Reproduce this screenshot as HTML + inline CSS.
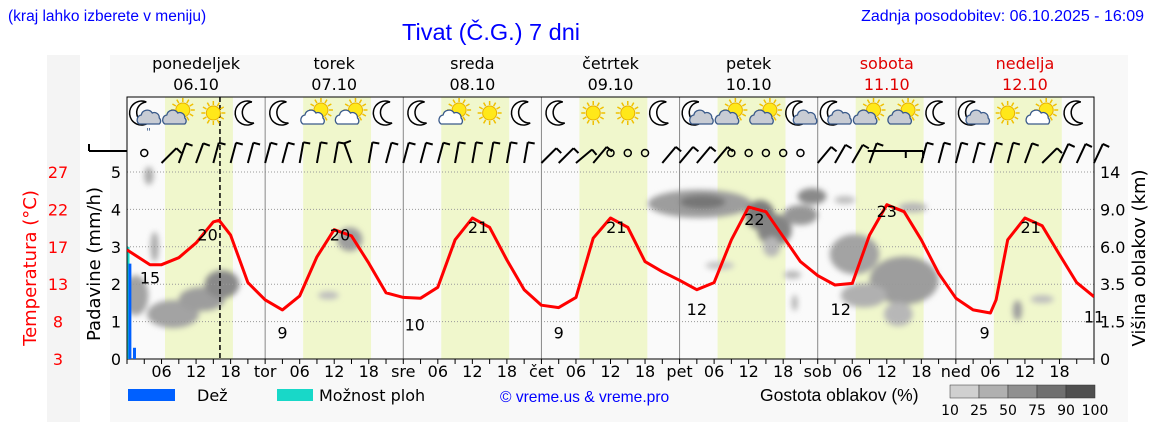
<!DOCTYPE html>
<html><head><meta charset="utf-8"><style>
html,body{margin:0;padding:0;background:#fff;}
body{width:1152px;height:443px;overflow:hidden;position:relative;font-family:"DejaVu Sans","Liberation Sans",sans-serif;}
svg text{font-family:"DejaVu Sans","Liberation Sans",sans-serif;}
</style></head><body>
<svg id="chart" width="1152" height="443" xmlns="http://www.w3.org/2000/svg">
<defs>
<filter id="blur" x="-50%" y="-50%" width="200%" height="200%"><feGaussianBlur stdDeviation="3"/></filter>
<clipPath id="plotclip"><rect x="127" y="97" width="967" height="262"/></clipPath>
</defs>
<rect x="47" y="55" width="33" height="367" fill="#f4f4f4"/>
<rect x="110" y="55" width="1018" height="367" fill="#f8f8f8"/>
<text x="8" y="21" font-size="15.5" fill="#0000ff" style="font-family:'Liberation Sans',sans-serif">(kraj lahko izberete v meniju)</text>
<text x="491" y="40" font-size="23.5" fill="#0000ff" text-anchor="middle" style="font-family:'Liberation Sans',sans-serif">Tivat (Č.G.) 7 dni</text>
<text x="1144" y="21" font-size="16" fill="#0000ff" text-anchor="end" style="font-family:'Liberation Sans',sans-serif">Zadnja posodobitev: 06.10.2025 - 16:09</text>
<g id="plot"></g>
</svg>
<script>
const dayNames=["ponedeljek","torek","sreda","četrtek","petek","sobota","nedelja"];
const dayDates=["06.10","07.10","08.10","09.10","10.10","11.10","12.10"];
const dayAbbr=["","tor","sre","čet","pet","sob","ned"];
const tempHours=[0,4,6,9,12,15,16,18,21,24,27,30,33,36,39,42,45,48,51,54,57,60,63,66,69,72,75,78,81,84,87,90,93,96,99,102,105,108,111,114,117,120,123,126,129,132,135,138,141,144,147,150,151,153,156,159,162,165,168];
const tempValues=[17.0,15.1,15.1,16.0,17.9,20.6,20.8,18.9,12.8,10.6,9.3,11.1,16.1,19.6,18.8,15.3,11.5,10.9,10.8,12.2,18.3,21.1,19.9,15.7,11.9,9.9,9.6,10.9,18.5,21.1,19.9,15.5,14.2,13.1,11.9,12.8,18.3,22.5,21.9,18.7,15.5,13.7,12.5,12.7,18.9,22.8,21.9,18.3,14.0,10.8,9.3,8.9,10.6,18.3,21.1,20.1,16.4,12.8,11.0];
const tempLabelValues=[15,20,9,20,10,21,9,21,12,22,12,23,9,21,11];
const tempLabelHours=[4,14,27,37,50,61,75,85,99,109,124,132,149,157,168];
const tempLabelOffsets=[18,14,22,14,22,14,22,14,22,14,22,14,22,14,22];
const precipTicks=[0,1,2,3,4,5];
const tempTicks=["3","8","13","17","22","27"];
const cloudHeightTicks=["0","1.5","3.5","6.0","9.0","14"];
const iconTypes=[["moonrain","suncloudg","sun","moon"],["moon","suncloudw","suncloudw","moon"],["moon","suncloudw","sun","moon"],["moon","sun","sun","moon"],["mooncloud","suncloudg","suncloudg","mooncloud"],["mooncloud","suncloudg","suncloudg","moon"],["mooncloud","sun","suncloudw","moon"]];
// 999 = calm (circle)
const windAngles=[-90,999,45,20,20,15,15,15,15,15,10,10,10,-20,10,15,15,15,15,10,10,10,10,10,45,45,50,40,999,999,999,40,40,40,40,999,999,999,999,999,40,30,30,20,90,90,15,15,15,15,15,15,20,45,25,25,25];
const rainHours=[0.5,1.3];
const rainValues=[2.55,0.3];
const showerValue=[3.0];
const cloudHour=[3.8,4.8,1.5,8,13,16.5,38.7,35,99.5,100,110,112.5,117,119,124.7,136.5,115.6,112,103,126.4,135,134,116,154.7,159,128];
const cloudLevel=[4.9,3.0,1.7,1.2,1.6,2.0,3.2,1.7,4.15,4.2,3.85,3.45,3.85,4.35,4.25,4.05,2.25,3.0,2.5,2.8,2.1,1.2,1.5,1.3,1.6,1.7];
const cloudHalfWidth=[0.8,0.7,2.2,4.5,4,3,2.2,1.8,9,4,2.5,3,3,2.5,1.8,2.5,1.5,1.5,2.5,4.3,6,2.5,0.5,0.8,2,4];
const cloudHalfHeight=[9,15,20,14,12,14,12,4,14,7,15,16,10,8,4,5,4,10,4,20,24,12,8,10,4,12];
const cloudDensity=[0.35,0.35,0.4,0.4,0.45,0.6,0.45,0.2,0.45,0.75,0.7,0.65,0.5,0.6,0.2,0.25,0.25,0.25,0.15,0.4,0.45,0.25,0.3,0.45,0.2,0.3];

const NS="http://www.w3.org/2000/svg";
const X0=127,X1=1094,Y0=359,Y5=172,PTOP=97;
const hx=h=>X0+h*(X1-X0)/168;
const py=v=>Y0-v*(Y0-Y5)/5;
const ty=t=>Y0-(t-3)*(Y0-Y5)/24;
const g=document.getElementById('plot');
function el(tag,attrs,parent){const e=document.createElementNS(NS,tag);for(const k in attrs)e.setAttribute(k,attrs[k]);(parent||g).appendChild(e);return e;}
let bg=el('rect',{x:X0,y:PTOP,width:X1-X0,height:Y0-PTOP,fill:'#fafafa'});


for(let d=0;d<7;d++){
  let r=el('rect',{x:hx(d*24+6.6),y:PTOP,width:hx(18.4)-hx(6.6),height:Y0-PTOP,fill:'#f0f7cc'});
  
  
  const cx=hx(d*24+12);
  const red=d>=5;
  let t1=el('text',{x:cx,y:69,'font-size':16,'text-anchor':'middle',fill:red?'#e00000':'#000'});t1.textContent=dayNames[d];
  
  
  let t2=el('text',{x:cx,y:90,'font-size':16,'text-anchor':'middle',fill:red?'#e00000':'#000'});t2.textContent=dayDates[d];
  
  
}
const cg=el('g',{filter:'url(#blur)','clip-path':'url(#plotclip)'});
cloudHour.forEach((h,i)=>{
  const k=Math.round(215-cloudDensity[i]*130);
  let e=el('ellipse',{cx:hx(h),cy:py(cloudLevel[i]),rx:cloudHalfWidth[i]*(X1-X0)/168,ry:cloudHalfHeight[i],fill:`rgb(${k},${k},${k})`},cg);
  
  
});
precipTicks.forEach((v,i)=>{
  if(v>0){let l=el('line',{x1:X0,x2:X1,y1:py(v),y2:py(v),stroke:'#999','stroke-dasharray':'1,2','stroke-width':1});
  
  }
  let t=el('text',{x:121,y:py(v)+6,'font-size':16,'text-anchor':'end',fill:'#000'});t.textContent=v;
  
  
  let tt=el('text',{x:58,y:py(v)+6,'font-size':16,'text-anchor':'middle',fill:'#ff0000'});tt.textContent=tempTicks[i];
  
  
  let rt=el('text',{x:1100,y:py(v)+6,'font-size':16,fill:'#000'});rt.textContent=cloudHeightTicks[i];
  
  
});
for(let d=1;d<7;d++){
  let l=el('line',{x1:hx(d*24),x2:hx(d*24),y1:PTOP,y2:Y0,stroke:'#888','stroke-width':1});
  
  
}
for(let h=0;h<=168;h+=3){
  el('line',{x1:hx(h),x2:hx(h),y1:Y0,y2:Y0+5,stroke:'#000'});
  const hh=h%24;
  let s=null;
  if(hh===0&&h>0&&h<168) s=dayAbbr[h/24];
  else if(hh===6||hh===12||hh===18) s=String(hh).padStart(2,'0');
  if(s){let t=el('text',{x:hx(h),y:377,'font-size':16,'text-anchor':'middle',fill:'#000'});t.textContent=s;
  
  }
}
el('rect',{x:X0,y:PTOP,width:X1-X0,height:Y0-PTOP,fill:'none',stroke:'#000','stroke-width':1});
let nl=el('line',{x1:hx(16.15),x2:hx(16.15),y1:PTOP,y2:Y0,stroke:'#000','stroke-dasharray':'5,3','stroke-width':1.5});


let sh=el('rect',{x:hx(0)+0.5,y:py(showerValue[0]),width:2,height:Y0-py(showerValue[0]),fill:'#18d8c8'});


rainHours.forEach((h,i)=>{
  let r=el('rect',{x:hx(h)-1.5,y:py(rainValues[i]),width:3,height:Y0-py(rainValues[i]),fill:'#0060ff'});
  
  
});
let d='';tempHours.forEach((h,i)=>{d+=(i?'L':'M')+hx(h).toFixed(1)+','+ty(tempValues[i]).toFixed(1);});
let tl=el('path',{d:d,fill:'none',stroke:'#ff0000','stroke-width':3,'stroke-linejoin':'round','clip-path':'url(#plotclip)'});


tempLabelValues.forEach((v,i)=>{
  const h=tempLabelHours[i];
  const isMax=tempLabelOffsets[i]<20;
  const y=isMax?ty(v)+tempLabelOffsets[i]:ty(v)+tempLabelOffsets[i]+4;
  let t=el('text',{x:hx(h),y:y,'font-size':16,'text-anchor':'middle',fill:'#000'});t.textContent=v;
  
  
});
windAngles.forEach((a,i)=>{
  const x=hx(i*3),yb=163;
  const gg=el('g',{});
  
  
  if(a===999){el('circle',{cx:x,cy:153,r:3.5,fill:'none',stroke:'#000','stroke-width':1.5},gg);return;}
  const rad=a*Math.PI/180,L=Math.abs(a)===90?38:21;
  const bx=a===90?x-L/2:x;
  const by=Math.abs(a)===90?151:yb;
  const tx=bx+Math.sin(rad)*L, tyy=by-Math.cos(rad)*L;
  el('line',{x1:bx,y1:by,x2:tx,y2:tyy,stroke:'#000','stroke-width':2},gg);
  el('line',{x1:tx,y1:tyy,x2:tx+Math.cos(rad)*7,y2:tyy+Math.sin(rad)*7,stroke:'#000','stroke-width':2},gg);
});
function sun(cx,cy,gg){for(let k=0;k<12;k++){const a=k*Math.PI/6;el('line',{x1:cx+Math.cos(a)*8,y1:cy+Math.sin(a)*8,x2:cx+Math.cos(a)*12,y2:cy+Math.sin(a)*12,stroke:'#f0c000','stroke-width':1.5},gg);}el('circle',{cx:cx,cy:cy,r:7,fill:'#ffe81a',stroke:'#e8b000'},gg);}
function moon(cx,cy,gg){el('path',{d:`M${cx+4},${cy-11} A12,12 0 1,0 ${cx+6},${cy+10} A10,10 0 1,1 ${cx+4},${cy-11}Z`,fill:'#fff',stroke:'#000','stroke-width':1.5},gg);}
function cloud(cx,cy,fill,gg){el('path',{d:`M${cx-10},${cy+6} a5,5 0 0,1 2,-9 a6,6 0 0,1 11,-2 a5,5 0 0,1 7,5 a4,4 0 0,1 0,6 Z`,fill:fill,stroke:'#3a5a8a','stroke-width':1.3},gg);}
iconTypes.forEach((day,di)=>day.forEach((t,k)=>{
  const cx=hx(di*24+3+k*6),cy=113;
  const gg=el('g',{});
  
  
  if(t==='sun')sun(cx,cy,gg);
  if(t==='moon')moon(cx,cy,gg);
  if(t.startsWith('suncloud')){sun(cx+4,cy-3,gg);cloud(cx-4,cy+5,t==='suncloudw'?'#fff':'#c8ccd4',gg);}
  if(t==='mooncloud'||t==='moonrain'){moon(cx-2,cy,gg);cloud(cx+5,cy+5,'#c8ccd4',gg);}
  if(t==='moonrain'){let r=el('text',{x:cx+2,y:cy+22,'font-size':10,fill:'#3a5a8a'},gg);r.textContent='"';}
}));
let at=el('text',{x:0,y:0,'font-size':18,'text-anchor':'middle',fill:'#ff0000',transform:'translate(36,268) rotate(-90)'});at.textContent='Temperatura (°C)';


let pt=el('text',{x:0,y:0,'font-size':18,'text-anchor':'middle',fill:'#000',transform:'translate(100,264) rotate(-90)'});pt.textContent='Padavine (mm/h)';


let ct=el('text',{x:0,y:0,'font-size':18,'text-anchor':'middle',fill:'#000',transform:'translate(1145,258) rotate(-90)'});ct.textContent='Višina oblakov (km)';


let l1=el('rect',{x:128,y:389,width:47,height:12,fill:'#0060ff'});


let l1t=el('text',{x:197,y:401,'font-size':16,fill:'#000'});l1t.textContent='Dež';


let l2=el('rect',{x:277,y:389,width:36,height:12,fill:'#18d8c8'});


let l2t=el('text',{x:319,y:401,'font-size':16,fill:'#000'});l2t.textContent='Možnost ploh';


let cp=el('text',{x:500,y:402,'font-size':15.6,fill:'#0000ff',style:"font-family:'Liberation Sans',sans-serif"});cp.textContent='© vreme.us & vreme.pro';


let gt=el('text',{x:760,y:401,'font-size':17.5,fill:'#000',style:"font-family:'Liberation Sans',sans-serif"});gt.textContent='Gostota oblakov (%)';


const dens=['#d0d0d0','#b0b0b0','#909090','#707070','#505050'];
const densL=['10','25','50','75','90','100'];
dens.forEach((c,i)=>{let r=el('rect',{x:950+i*29,y:385,width:29,height:13,fill:c,stroke:'#333','stroke-width':0.5});

});
densL.forEach((s,i)=>{let t=el('text',{x:950+i*29,y:415,'font-size':14,'text-anchor':'middle',fill:'#000'});t.textContent=s;

});
</script>
</body></html>
